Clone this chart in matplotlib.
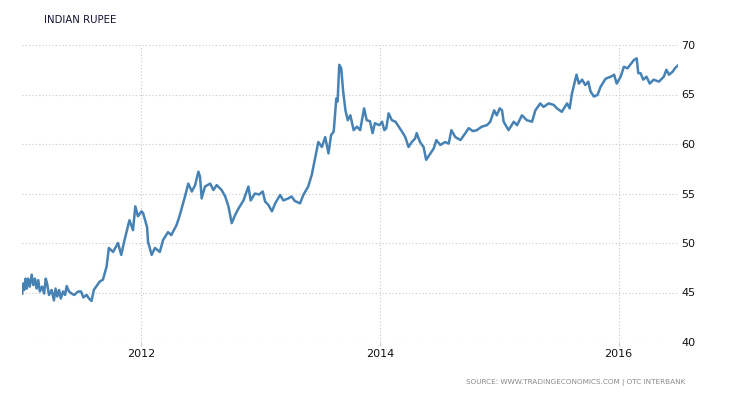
import pandas as pd
import matplotlib.pyplot as plt
import matplotlib.dates as mdates

# INR per USD
dates = [
    "2011-01-02", "2011-01-05", "2011-01-08", "2011-01-12", "2011-01-16", "2011-01-20",
    "2011-01-25", "2011-01-31", "2011-02-05", "2011-02-10", "2011-02-15", "2011-02-20",
    "2011-02-25", "2011-03-04", "2011-03-10", "2011-03-15", "2011-03-19", "2011-03-25",
    "2011-04-02", "2011-04-09", "2011-04-14", "2011-04-19", "2011-04-25", "2011-04-30",
    "2011-05-07", "2011-05-13", "2011-05-18", "2011-05-25", "2011-06-02", "2011-06-10",
    "2011-06-22", "2011-07-01", "2011-07-08", "2011-07-18", "2011-07-25", "2011-08-02",
    "2011-08-09",
    "2011-08-12", "2011-08-27", "2011-09-06", "2011-09-17",
    "2011-09-24", "2011-10-07", "2011-10-22", "2011-11-01", "2011-11-11", "2011-11-26",
    "2011-12-07", "2011-12-14", "2011-12-22", "2012-01-02", "2012-01-07", "2012-01-19",
    "2012-01-22", "2012-02-02", "2012-02-12", "2012-02-27", "2012-03-08", "2012-03-23",
    "2012-04-02", "2012-04-18", "2012-04-28", "2012-05-14", "2012-05-24", "2012-06-04",
    "2012-06-14", "2012-06-24", "2012-06-29", "2012-07-04", "2012-07-14", "2012-07-30",
    "2012-08-09", "2012-08-19", "2012-09-03", "2012-09-14", "2012-09-24", "2012-10-04",
    "2012-10-14", "2012-10-25", "2012-11-09", "2012-11-24", "2012-12-01", "2012-12-14",
    "2012-12-27", "2013-01-07", "2013-01-14", "2013-01-24", "2013-02-04", "2013-02-14",
    "2013-03-01", "2013-03-11", "2013-03-26", "2013-04-05", "2013-04-15", "2013-05-01",
    "2013-05-11", "2013-05-26", "2013-06-06", "2013-06-16", "2013-06-26", "2013-07-07",
    "2013-07-17", "2013-07-27", "2013-08-04", "2013-08-12", "2013-08-20", "2013-08-24",
    "2013-08-29", "2013-09-04", "2013-09-10", "2013-09-17", "2013-09-24", "2013-10-02",
    "2013-10-12", "2013-10-22", "2013-11-01", "2013-11-13", "2013-11-21", "2013-12-01",
    "2013-12-09", "2013-12-16", "2013-12-30", "2014-01-07", "2014-01-14", "2014-01-20",
    "2014-01-27", "2014-02-06", "2014-02-17", "2014-02-27", "2014-03-09", "2014-03-19",
    "2014-03-29", "2014-04-08", "2014-04-18", "2014-04-23", "2014-05-03", "2014-05-14",
    "2014-05-22", "2014-06-04", "2014-06-14", "2014-06-22", "2014-07-04", "2014-07-19",
    "2014-07-30", "2014-08-07", "2014-08-19", "2014-09-04", "2014-09-19", "2014-09-29",
    "2014-10-12", "2014-10-24", "2014-11-08", "2014-11-24", "2014-12-04", "2014-12-16",
    "2014-12-24", "2015-01-02", "2015-01-09", "2015-01-14", "2015-01-29", "2015-02-14",
    "2015-02-24", "2015-03-11", "2015-03-26", "2015-04-11", "2015-04-21", "2015-05-06",
    "2015-05-16", "2015-06-01", "2015-06-16", "2015-06-26", "2015-07-11", "2015-07-27",
    "2015-08-04", "2015-08-11", "2015-08-25", "2015-09-01", "2015-09-11", "2015-09-21",
    "2015-09-30", "2015-10-07", "2015-10-17", "2015-10-28", "2015-11-07", "2015-11-22",
    "2015-12-08", "2015-12-18", "2015-12-26", "2016-01-07", "2016-01-17", "2016-01-28",
    "2016-02-09", "2016-02-17", "2016-02-25", "2016-03-01", "2016-03-08", "2016-03-16",
    "2016-03-26", "2016-04-05", "2016-04-17", "2016-05-03", "2016-05-18", "2016-05-26",
    "2016-06-03", "2016-06-14", "2016-06-21", "2016-06-29",
]
rates = [
    44.9, 45.9, 45.25, 46.4, 45.4, 46.4,
    45.6, 46.8, 45.75, 46.4, 45.4, 46.25,
    45.1, 45.6, 44.9, 46.4, 45.9, 44.75,
    45.25, 44.2, 45.4, 44.6, 45.25, 44.4,
    45.1, 44.75, 45.65, 45.1, 44.9, 44.75,
    45.1, 45.1, 44.5, 44.75, 44.4, 44.15,
    45.25,
    45.4, 46.1, 46.3, 47.6,
    49.5, 49.1, 50.0, 48.8, 50.3, 52.3,
    51.3, 53.7, 52.7, 53.2, 53.0, 51.6,
    50.1, 48.8, 49.5, 49.1, 50.3, 51.1,
    50.8, 51.8, 52.8, 54.7, 56.0, 55.2,
    55.85, 57.2, 56.7, 54.5, 55.7, 56.0,
    55.35, 55.85, 55.35, 54.7, 53.7, 52.0,
    52.8, 53.5, 54.3, 55.7, 54.3, 55.0,
    54.9, 55.2, 54.2, 53.85, 53.2, 54.0,
    54.85, 54.3, 54.5, 54.7, 54.25, 54.0,
    54.85, 55.7, 56.9, 58.55, 60.2, 59.7,
    60.7, 59.05, 60.9, 61.25, 64.6, 64.3,
    68.0, 67.65, 65.3, 63.4, 62.4, 62.9,
    61.4, 61.75, 61.4, 63.6, 62.4, 62.3,
    61.1, 62.1, 61.9, 62.25, 61.4, 61.6,
    63.1, 62.4, 62.25, 61.75, 61.25, 60.7,
    59.7, 60.2, 60.55, 61.1, 60.2, 59.7,
    58.4, 59.05, 59.55, 60.4, 59.9, 60.2,
    60.05, 61.4, 60.7, 60.4, 61.1, 61.6,
    61.3, 61.4, 61.75, 61.9, 62.25, 63.4,
    62.9, 63.6, 63.4, 62.25, 61.4, 62.25,
    61.9, 62.9, 62.4, 62.25, 63.4, 64.1,
    63.75, 64.1, 63.95, 63.6, 63.25, 64.1,
    63.6, 65.1, 67.0, 66.1, 66.5, 65.95,
    66.3, 65.3, 64.8, 64.95, 65.8, 66.6,
    66.8, 67.0, 66.1, 66.8, 67.8, 67.65,
    68.15, 68.5, 68.65, 67.15, 67.15, 66.5,
    66.8, 66.1, 66.5, 66.3, 66.8, 67.5,
    67.0, 67.3, 67.65, 67.9,
]

yticks = [40, 45, 50, 55, 60, 65, 70]
xtick_years = ["2012", "2014", "2016"]

plt.rcParams['font.family'] = ['DejaVu Sans']

fig = plt.figure(figsize=(7.3, 4.0), dpi=100)
ax = fig.add_axes([0.030, 0.145, 0.899, 0.7425])

x = pd.to_datetime(dates)
ax.plot(x, rates, color="#4682b4", lw=1.8, solid_joinstyle="round")

ax.set_xlim(pd.Timestamp("2011-01-01"), pd.Timestamp("2016-07-01"))
ax.set_ylim(40, 70)
ax.set_yticks(yticks)
ax.set_xticks(pd.to_datetime([y + "-01-01" for y in xtick_years]))
ax.xaxis.set_major_formatter(mdates.DateFormatter("%Y"))

ax.yaxis.tick_right()
ax.tick_params(axis="y", length=0, pad=2, labelsize=8, colors="#111111")
ax.tick_params(axis="x", length=3, width=0.8, color="#cccccc", pad=2,
               labelsize=8, labelcolor="#111111")

ax.grid(True, color="#c8c8c8", linestyle=(0, (1, 2)), linewidth=0.8)
for s in ax.spines.values():
    s.set_visible(False)

fig.text(44 / 730, 1 - 20 / 400, "INDIAN RUPEE", fontsize=7.3,
         color="#111133", va="center", ha="left")
fig.text(685 / 730, 1 - 383 / 400,
         "SOURCE: WWW.TRADINGECONOMICS.COM | OTC INTERBANK",
         fontsize=5.2, color="#8a8a8a", va="center", ha="right")

plt.savefig("out.png", dpi=100)
